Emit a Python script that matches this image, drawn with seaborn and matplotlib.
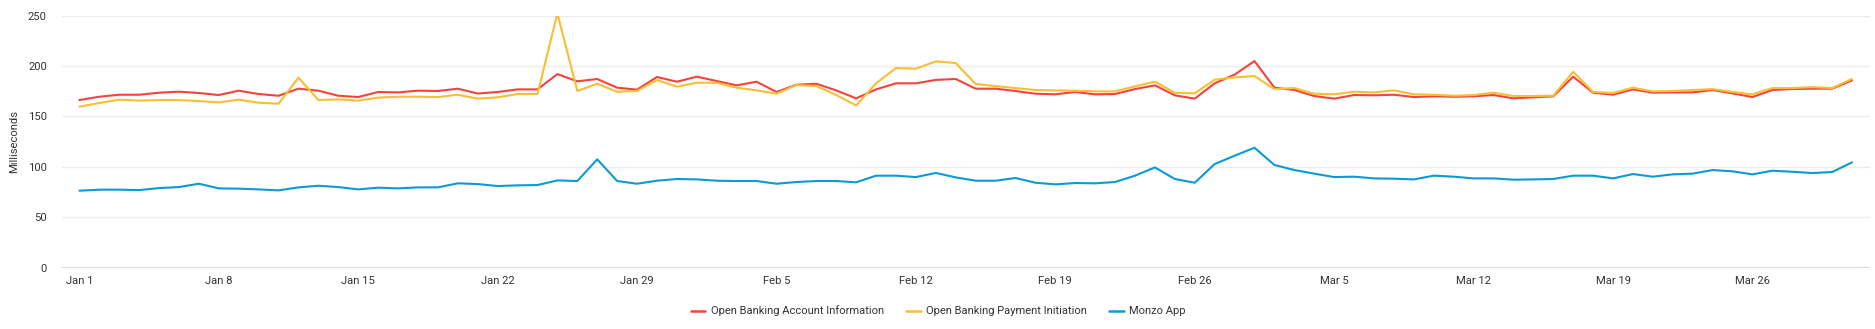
import numpy as np
import pandas as pd
import matplotlib
matplotlib.use("Agg")
import matplotlib.pyplot as plt
from matplotlib.lines import Line2D
import seaborn as sns

dates = pd.date_range("2023-01-01", "2023-03-31", freq="D")

account_info = [
    166.3, 169.6, 171.6, 171.6, 173.6, 174.6, 173.3, 171.3, 175.6, 172.3,
    170.6, 177.6, 175.6, 170.6, 169.3, 174.3, 173.9, 175.6, 175.3, 177.6,
    172.8, 174.3, 176.9, 176.9, 192.1, 184.9, 187.2, 178.6, 176.6, 189.2,
    184.5, 189.5, 185.2, 180.9, 184.5, 174.3, 181.5, 182.5, 175.9, 168.0,
    176.9, 182.9, 182.9, 186.3, 187.2, 177.6, 177.6, 175.3, 172.6, 172.0,
    174.3, 172.0, 172.3, 177.2, 180.9, 171.0, 167.7, 182.9, 191.5, 205.0,
    178.6, 176.3, 170.3, 167.7, 171.3, 171.0, 171.6, 169.3, 170.0, 169.6,
    170.0, 171.3, 168.0, 169.0, 170.0, 189.5, 173.6, 171.6, 176.9, 173.6,
    173.9, 173.9, 176.3, 172.9, 169.3, 176.3, 177.2, 177.6, 177.6, 185.8,
]
payment_init = [
    159.7, 163.4, 166.7, 165.7, 166.3, 166.3, 165.3, 164.0, 166.7, 163.7,
    162.7, 188.5, 166.3, 167.0, 165.7, 168.7, 169.6, 169.6, 169.3, 171.6,
    167.7, 169.0, 172.3, 172.3, 252.3, 175.3, 182.5, 174.6, 175.3, 186.2,
    179.6, 183.5, 183.5, 178.6, 175.9, 172.6, 181.2, 180.2, 171.3, 161.0,
    182.9, 198.1, 197.4, 204.7, 203.0, 182.2, 180.2, 178.2, 176.3, 175.9,
    175.6, 174.9, 174.9, 179.9, 184.5, 173.6, 173.0, 186.5, 188.8, 190.1,
    177.2, 178.2, 172.6, 172.0, 174.6, 173.9, 175.9, 172.0, 171.6, 170.6,
    171.3, 173.6, 170.3, 170.3, 170.6, 194.4, 174.3, 173.3, 178.6, 174.9,
    175.3, 176.3, 177.2, 174.3, 172.0, 178.2, 178.2, 179.2, 178.2, 187.2,
]
monzo_app = [
    76.4, 77.4, 77.4, 77.0, 79.0, 80.0, 83.3, 78.7, 78.4, 77.7,
    76.7, 79.7, 81.3, 80.0, 77.7, 79.4, 78.7, 79.7, 79.7, 83.7,
    83.0, 81.0, 81.7, 82.0, 86.6, 86.0, 107.5, 86.0, 83.3, 86.3,
    88.0, 87.6, 86.3, 86.0, 86.0, 83.3, 85.0, 86.0, 86.0, 84.7,
    91.3, 91.3, 89.9, 94.0, 89.6, 86.3, 86.3, 89.0, 84.3, 82.7,
    84.0, 83.7, 85.0, 91.3, 99.5, 88.0, 84.3, 102.8, 111.1, 119.0,
    101.9, 96.9, 93.3, 89.9, 90.3, 88.6, 88.3, 87.6, 91.3, 90.3,
    88.6, 88.6, 87.3, 87.6, 88.0, 91.3, 91.3, 88.6, 92.9, 90.3,
    92.6, 93.3, 96.9, 95.6, 92.6, 96.2, 95.2, 93.9, 94.9, 104.5,
]

series_names = ["Open Banking Account Information",
                "Open Banking Payment Initiation",
                "Monzo App"]
colors = ["#F4433B", "#F8BE34", "#0A9AD6"]
y_ticks = [0, 50, 100, 150, 200, 250]

df = pd.concat([
    pd.DataFrame({"date": dates, "value": account_info, "series": series_names[0]}),
    pd.DataFrame({"date": dates, "value": payment_init, "series": series_names[1]}),
    pd.DataFrame({"date": dates, "value": monzo_app, "series": series_names[2]}),
], ignore_index=True)

sns.set_theme(style="white")
plt.rcParams["font.family"] = ["Roboto", "DejaVu Sans"]

fig = plt.figure(figsize=(18.75, 3.29), dpi=100)
ax = fig.add_axes([0.0331, 0.1863, 0.9642, 0.766])

sns.lineplot(data=df, x="date", y="value", hue="series",
             palette=dict(zip(series_names, colors)), linewidth=1.5,
             ax=ax, legend=False)

ax.set_ylim(0, 250)
ax.set_yticks(y_ticks)
start = dates[0]
ax.set_xlim(start - pd.Timedelta(days=0.87), start + pd.Timedelta(days=89.9))
tick_dates = pd.date_range(start, dates[-1], freq="7D")
ax.set_xticks(tick_dates)
ax.set_xticklabels([f"{d.strftime('%b')} {d.day}" for d in tick_dates])

ax.grid(axis="y", color="#ECECEC", linewidth=1.0)
ax.grid(axis="x", visible=False)
ax.axhline(0, color="#D9DCE6", linewidth=1.6, zorder=1)
for s in ax.spines.values():
    s.set_visible(False)
ax.tick_params(axis="both", length=0, labelsize=8.1, labelcolor="#333333")
ax.tick_params(axis="x", pad=6)
ax.tick_params(axis="y", pad=11)
ax.set_xlabel("")
ax.set_ylabel("Milliseconds", fontsize=8.1, color="#333333", labelpad=6)

handles = [Line2D([0], [0], color=c, linewidth=1.8) for c in colors]
fig.legend(handles, series_names, loc="center", bbox_to_anchor=(0.5005, 0.0547),
           ncol=3, frameon=False, fontsize=8.0, handlelength=1.3,
           handletextpad=0.5, columnspacing=2.0, labelcolor="#333333")

fig.savefig("out.png", dpi=100)
